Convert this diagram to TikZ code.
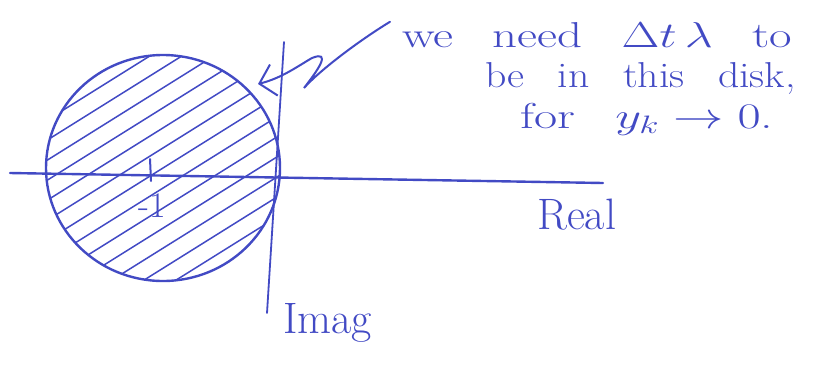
\RequirePackage{fix-cm}
\documentclass[tikz,border=0pt]{standalone}
\usepackage{amsmath}
\usetikzlibrary{arrows.meta,calc,positioning}
\definecolor{inkBlue}{RGB}{66,74,196}
\newcommand{\widetext}[2]{\scalebox{#1}[1]{#2}}

\begin{document}
\begin{tikzpicture}[x=1pt,y=-1pt,
  ink/.style={draw=inkBlue,line width=2.4pt,line cap=round},
  hatch/.style={draw=inkBlue,line width=1.5pt,line cap=round},
  hand/.style={text=inkBlue,inner sep=0pt,anchor=base west,
    font=\fontsize{36}{40}\selectfont,
    execute at begin node={\spaceskip=0.8em\relax}}]
  \useasboundingbox (0,0) rectangle (813,368);
  \coordinate (C) at (163,168);
  \coordinate (Lft) at (10,173);
  \coordinate (Rgt) at (603,183);
  \coordinate (Top) at (284,42);
  \coordinate (Bot) at (267,313);
  \coordinate (tickA) at (150,159);
  \coordinate (tickB) at (151,181);
  \coordinate (tip) at (258,84);
  % shaded disk
  \begin{scope}
    \clip (C) ellipse[x radius=117,y radius=113];
    \begin{scope}[shift={(C)},rotate=32]
      \foreach \k in {-7,...,7}
        \draw[hatch] (-140,\k*17) -- (140,\k*17);
    \end{scope}
  \end{scope}
  \draw[ink] (C) ellipse[x radius=117,y radius=113];
  % axes
  \draw[ink] (Lft) -- (Rgt);
  \draw[ink,line width=1.8pt] (Top) -- (Bot);
  \draw[ink,line width=2pt] (tickA) -- (tickB);
  \node[hand,font=\fontsize{36}{38}\selectfont,anchor=center] (minusOne) at (152,206) {-1};
  \node[hand,font=\fontsize{44}{48}\selectfont] (realLabel) at (537,229) {Real};
  \node[hand,font=\fontsize{44}{48}\selectfont] (imagLabel) at (283,333) {Imag};
  % note
  \node[hand] (lineA) at (402,47) {\widetext{1.36}{we need $\Delta t\,\lambda$ to}};
  \node[hand] (lineB) at (485,87) {\widetext{1.16}{be in this disk,}};
  \node[hand] (lineC) at (520,128) {\widetext{1.4}{for $y_k \to 0$.}};
  \draw[ink,line width=2pt,-{Straight Barb[length=15pt,width=32pt]}]
    ([xshift=-12pt]lineA.north west) .. controls (360,40) and (320,70) .. (304,88)
    .. controls (318,70) and (332,50) .. (312,58)
    .. controls (298,66) and (282,78) .. (tip);
\end{tikzpicture}
\end{document}
